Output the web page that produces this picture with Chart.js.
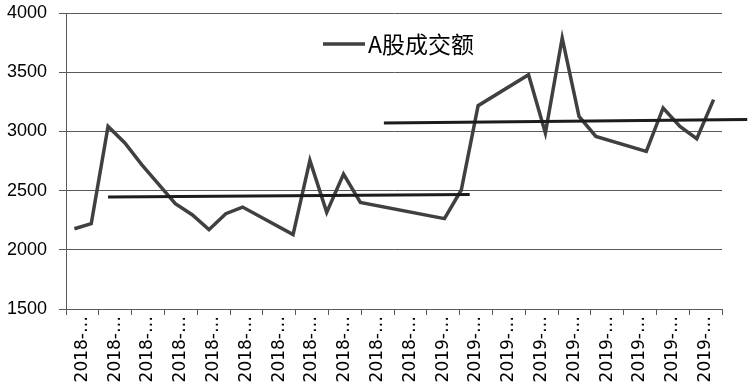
<!DOCTYPE html>
<html><head><meta charset="utf-8">
<script src="https://cdn.jsdelivr.net/npm/chart.js@4.4.1/dist/chart.umd.min.js"></script>
<style>html,body{margin:0;padding:0;background:#fff;}#wrap{width:748px;height:384px;}</style>
</head><body><div id="wrap"><canvas id="c" width="748" height="384"></canvas></div>
<script>
// Category labels shown on the x axis (truncated dates)
const categoryLabels = ['2018-…','2018-…','2018-…','2018-…','2018-…','2018-…','2018-…','2018-…','2018-…','2018-…','2018-…',
                        '2019-…','2019-…','2019-…','2019-…','2019-…','2019-…','2019-…','2019-…','2019-…'];
// Day slot of each observation (date axis, gaps = no trading)
const dayIndex = [0,1,2,3,4,5,6,7,8,9,10,13,14,15,16,17,22,23,24,27,28,29,30,31,34,35,36,37,38];
// A-share turnover values
const turnover = [2178,2220,3042,2902,2720,2555,2390,2296,2170,2305,2361,2128,2755,2316,2640,2400,2263,2505,3217,3479,2987,3789,3127,2958,2831,3198,3042,2938,3268];
// Trend lines (start/end)
const trendAx = [2, 23.5];
const trendAy = [2446, 2468];
const trendBx = [18.4, 40];
const trendBy = [3071, 3100];
// y ticks
const yMin = 1500, yMax = 4000, yStep = 500;
const seriesName = 'A股成交额';

const toPts = (xs, ys) => xs.map((x, i) => ({x: x, y: ys[i]}));

const legendPlugin = {
  id: 'insideLegend',
  afterDraw(chart) {
    const ds = chart.data.datasets[0];
    const ctx = chart.ctx;
    const a = chart.chartArea;
    const x0 = a.left + 257, y0 = a.top + 31;
    ctx.save();
    ctx.strokeStyle = ds.borderColor;
    ctx.lineWidth = ds.borderWidth;
    ctx.beginPath();
    ctx.moveTo(x0, y0);
    ctx.lineTo(x0 + 42, y0);
    ctx.stroke();
    ctx.font = '23px "Noto Sans CJK SC"';
    ctx.fillStyle = '#000';
    ctx.textBaseline = 'middle';
    ctx.fillText(ds.label, x0 + 45, y0);
    ctx.restore();
  }
};

Chart.defaults.font.family = '"Liberation Sans", sans-serif';
Chart.defaults.color = '#000';

new Chart(document.getElementById('c'), {
  type: 'line',
  data: {
    datasets: [
      {label: seriesName, data: toPts(dayIndex, turnover), borderColor: '#404040', borderWidth: 3.5,
       pointRadius: 0, tension: 0, xAxisID: 'x', yAxisID: 'y', order: 1, borderJoinStyle: 'miter'},
      {label: 'trendA', data: toPts(trendAx, trendAy), borderColor: '#1c1c1c', borderWidth: 3,
       pointRadius: 0, xAxisID: 'x', yAxisID: 'y', order: 0, clip: false},
      {label: 'trendB', data: toPts(trendBx, trendBy), borderColor: '#1c1c1c', borderWidth: 3,
       pointRadius: 0, xAxisID: 'x', yAxisID: 'y', order: 0, clip: false}
    ]
  },
  options: {
    responsive: false,
    animation: false,
    devicePixelRatio: 1,
    layout: {padding: {left: 0, top: 13, right: 26, bottom: 0}},
    plugins: {legend: {display: false}, tooltip: {enabled: false}},
    scales: {
      x: {type: 'linear', min: -0.5, max: 38.5, display: false},
      xLabels: {
        type: 'category', position: 'bottom', labels: categoryLabels, offset: true,
        grid: {offset: true, drawOnChartArea: false, drawTicks: true, tickLength: 6, color: '#595959', lineWidth: 1},
        border: {display: true, color: '#595959', width: 1},
        ticks: {autoSkip: false, minRotation: 90, maxRotation: 90, padding: 1,
                font: {family: '"DejaVu Sans"', size: 17}, color: '#000'},
        afterFit(scale) { scale.height = 75; }
      },
      y: {
        type: 'linear', min: yMin, max: yMax,
        grid: {color: '#595959', lineWidth: 1, tickLength: 7},
        border: {display: true, color: '#595959', width: 1},
        ticks: {stepSize: yStep, padding: 12, font: {size: 18}, color: '#000',
                callback: (v) => String(v)},
        afterFit(scale) { scale.width = 66; scale.paddingTop = 0; scale.paddingBottom = 0; }
      }
    }
  },
  plugins: [legendPlugin]
});
</script>
</body></html>
